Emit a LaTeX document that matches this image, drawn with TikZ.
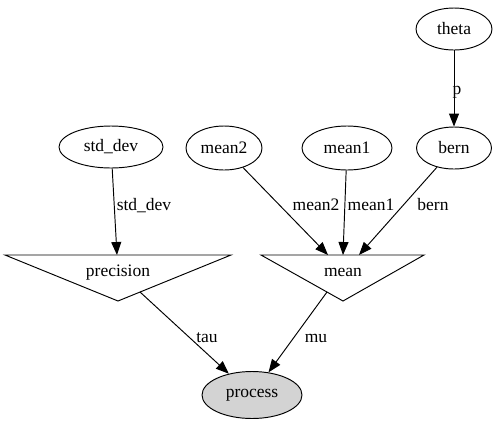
\documentclass[tikz,border=0pt]{standalone}
\usepackage{fontspec}
\setmainfont{Liberation Serif}
\usetikzlibrary{shapes.geometric,arrows.meta}
\definecolor{lgray}{HTML}{D3D3D3}
\begin{document}
\begin{tikzpicture}[x=1pt,y=-1pt,
  every node/.style={font=\fontsize{17.5}{20}\selectfont},
  var/.style={draw, ellipse, inner sep=0pt, line width=0.95pt},
  tri/.style={draw, line width=0.95pt, line join=miter},
  edge/.style={line width=0.95pt, -{Triangle[length=13pt,width=10pt]}},
  lbl/.style={anchor=base, inner sep=0pt}]
\useasboundingbox (0,0) rectangle (495,424);

% random variables
\node[var, minimum width=76, minimum height=42] (theta) at (454,29) {theta};
\node[var, minimum width=75, minimum height=42] (bern) at (454,148) {bern};
\node[var, minimum width=90, minimum height=44] (mean1) at (347,148) {mean1};
\node[var, minimum width=76, minimum height=44] (mean2) at (224,148) {mean2};
\node[var, minimum width=104, minimum height=42] (stddev) at (111,147) {std\_dev};
\node[var, fill=lgray, minimum width=100, minimum height=47] (process) at (252,395) {process};

% deterministic nodes (inverted triangles)
\coordinate (precL) at (5,255);
\coordinate (precR) at (231,255);
\coordinate (precA) at (118,301);
\draw[tri] (precL) -- (precR) -- (precA) -- cycle;
\node[lbl] (precision) at (118,276) {precision};

\coordinate (meanL) at (261,255);
\coordinate (meanR) at (424,255);
\coordinate (meanA) at (343,301);
\draw[tri] (meanL) -- (meanR) -- (meanA) -- cycle;
\node[lbl] (mean) at (343,276) {mean};

% edge ports on the triangles
\coordinate (precIn) at (117,255);
\coordinate (meanIn2) at (328,255);
\coordinate (meanIn1) at (343,255);
\coordinate (meanInB) at (359,255);
\coordinate (precOut) at (140,292);
\coordinate (meanOut) at (327,292);

% edges
\draw[edge] (theta) -- (bern);
\draw[edge] (stddev) -- (precIn);
\draw[edge] (mean2) -- (meanIn2);
\draw[edge] (mean1) -- (meanIn1);
\draw[edge] (bern) -- (meanInB);
\draw[edge] (precOut) -- (process);
\draw[edge] (meanOut) -- (process);

% edge labels
\node[lbl] (lp) at (457,94) {p};
\node[lbl] (lsd) at (144,210) {std\_dev};
\node[lbl] (lm2) at (316,210) {mean2};
\node[lbl] (lm1) at (371,210) {mean1};
\node[lbl] (lb) at (433,210) {bern};
\node[lbl] (ltau) at (207,342) {tau};
\node[lbl] (lmu) at (316,342) {mu};
\end{tikzpicture}
\end{document}
